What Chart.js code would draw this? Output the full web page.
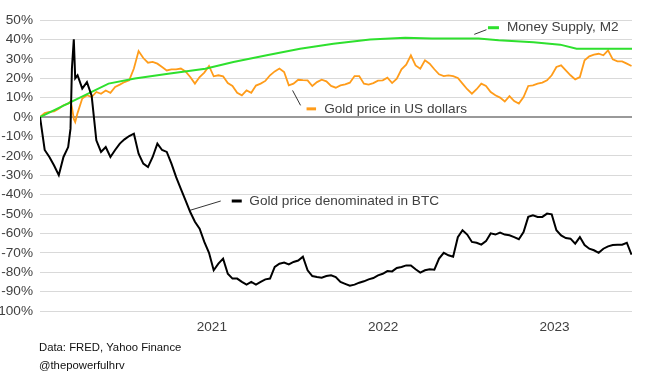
<!DOCTYPE html>
<html>
<head>
<meta charset="utf-8">
<script src="https://cdn.jsdelivr.net/npm/chart.js@4.4.1/dist/chart.umd.min.js"></script>
<style>
html,body{margin:0;padding:0;background:#fff;}
#wrap{width:645px;height:378px;position:relative;}
</style>
</head>
<body>
<div id="wrap"><canvas id="c" width="645" height="378"></canvas></div>
<script>
// Days since 2020-01-01
const days = [0,10,20,30,40,50,60,65,68,72,75,
  80,90,100,110,120,130,140,150,160,170,
  180,190,200,210,220,230,240,250,260,270,
  280,290,300,310,320,330,340,350,360,370,
  380,390,400,410,420,430,440,450,460,470,
  480,490,500,510,520,530,540,550,560,570,
  580,590,600,610,620,630,640,650,660,670,
  680,690,700,710,720,730,740,750,760,770,
  780,790,800,810,820,830,840,850,860,870,
  880,890,900,910,920,930,940,950,960,970,
  980,990,1000,1010,1020,1030,1040,1050,1060,1070,
  1080,1090,1100,1110,1120,1130,1140,1150,1160,1170,
  1180,1190,1200,1210,1220,1230,1240,1250,1260];

// Gold price denominated in BTC (% change)
const goldBtc = [0,-17,-20.6,-25,-30,-20.6,-15.5,
  -6,25,40,20,
  21.5,14.6,18,11,-12,-18,-15.5,-20.6,-17,-13.7,
  -11.5,-9.8,-8.6,-18.9,-24,-25.8,-20.6,-13.7,-17,-18,
  -24,-31,-37,-43,-49,-54,-57.6,-64.4,-70,-79,
  -75.6,-73,-80.8,-83.3,-83.3,-85,-86.4,-85,-86.4,-85,
  -83.7,-83.3,-77.3,-75.6,-75,-76,-74.7,-74,-72,-79,
  -82,-82.5,-82.8,-82,-81.6,-82.5,-85,-86,-87,-86.4,
  -85.4,-84.7,-83.7,-83,-81.6,-80.8,-79.4,-79.6,-77.8,-77.3,
  -76.5,-76.5,-78.5,-80.2,-79,-78.5,-78.7,-73,-70,-71.3,
  -72,-62,-58.4,-60.6,-64.4,-64.8,-65.8,-64,-60,-60.6,
  -59.6,-60.6,-61,-61.9,-63,-59.3,-51.5,-50.7,-51.5,-51.5,
  -49.8,-50.2,-58.4,-61,-62.4,-62.7,-65.3,-61.9,-66,-67.9,
  -68.7,-70,-67.9,-66.7,-66,-65.8,-65.8,-64.8,-71];

// Gold price in US dollars (% change)
const goldUsd = [0,2,2.6,2.9,4.3,6,6.9,
  8,5,-1,-2.6,
  2,9.5,11.2,10.3,12.9,12,13.7,12.5,15.5,16.7,
  18,18.9,25,34,30.4,28,28.4,27.5,25.8,24,
  24.6,24.6,25,23.5,20.6,17.2,20.6,22.9,26.3,21,
  21.5,21,17.5,16,12.5,11.2,13.7,12.5,16.2,17.2,
  18.6,21.5,23.5,25,23.2,16.3,17.2,19.2,19,18.9,
  16,18,19.2,18.4,16,15.1,16.3,16.8,17.7,21.1,
  21.1,17.2,16.7,17.5,18.7,18.9,20.3,17.5,19.8,24.6,
  27,31.8,26.6,24.9,29.2,27.5,24.6,22,21.1,21.5,
  21.1,20.1,17.2,14.3,12,14.3,17.2,16,12.9,11.2,
  10,8,10.8,8.2,6.9,10.3,16,16.3,17.2,17.7,
  18.9,21.5,25.8,26.6,24,21.5,19.4,20.6,29.2,31.3,
  32.1,32.6,31.8,34.4,29.7,28.7,28.7,27.5,26.3];

// Money Supply M2 (% change)
const m2Days = [0,146,202,273,352,412,483,554,625,703,778,835,934,977,1051,1108,1143,1261];
const m2 = [0,17.2,19.8,22.3,24.9,28.4,31.8,35.2,37.8,40,40.9,40.5,40.4,39.5,38.5,37.3,35.2,35.2];

const tickDays = [366,731,1096];
const tickLabels = ['2021','2022','2023'];

const seriesNames = ['Gold price denominated in BTC','Money Supply, M2','Gold price in US dollars'];
const colors = {btc:'#000000', m2:'#2EE02E', usd:'#FF9C1A'};

const FONT = "'Liberation Sans', Arial, sans-serif";
const TEXT = '#404040';

function pts(xs, ys){ return xs.map((x,i)=>({x:x, y:ys[i]})); }

// Annotation callouts: leader line in data coords, marker/text offsets in px from leader end
const callouts = [
  {text:seriesNames[1], color:colors.m2, from:[925,42.6], to:[951,45.0], dash:[1.5,12.5], dy:-2, tx:20.5},
  {text:seriesNames[2], color:colors.usd, from:[538,13.7], to:[555,6.0], dash:[6,15.5], dy:3.5, tx:23.6},
  {text:seriesNames[0], color:colors.btc, from:[319.5,-48.1], to:[385,-43.3], dash:[11,21], dy:0, tx:28.6}
];

const calloutPlugin = {
  id:'callouts',
  afterDatasetsDraw(chart){
    const ctx = chart.ctx, xs = chart.scales.x, ys = chart.scales.y;
    ctx.save();
    callouts.forEach(c=>{
      const x1 = xs.getPixelForValue(c.from[0]), y1 = ys.getPixelForValue(c.from[1]);
      const x2 = xs.getPixelForValue(c.to[0]), y2 = ys.getPixelForValue(c.to[1]);
      ctx.strokeStyle = '#000'; ctx.lineWidth = 0.8;
      ctx.beginPath(); ctx.moveTo(x1,y1); ctx.lineTo(x2,y2); ctx.stroke();
      ctx.strokeStyle = c.color; ctx.lineWidth = 3;
      ctx.beginPath(); ctx.moveTo(x2+c.dash[0], y2+c.dy); ctx.lineTo(x2+c.dash[1], y2+c.dy); ctx.stroke();
      ctx.fillStyle = TEXT; ctx.font = '13.6px ' + FONT;
      ctx.textBaseline = 'middle'; ctx.textAlign = 'left';
      ctx.fillText(c.text, x2+c.tx, y2+c.dy);
    });
    ctx.restore();
  },
  afterDraw(chart){
    const ctx = chart.ctx;
    ctx.save();
    ctx.fillStyle = '#111'; ctx.font = '11.3px ' + FONT;
    ctx.textBaseline = 'middle'; ctx.textAlign = 'left';
    ctx.fillText('Data: FRED, Yahoo Finance', 39, 348);
    ctx.fillText('@thepowerfulhrv', 39, 366);
    ctx.restore();
  }
};

new Chart(document.getElementById('c'), {
  type:'line',
  data:{
    datasets:[
      {label:seriesNames[0], data:pts(days, goldBtc), borderColor:colors.btc, borderWidth:2, pointRadius:0, tension:0},
      {label:seriesNames[1], data:pts(m2Days, m2), borderColor:colors.m2, borderWidth:2, pointRadius:0, tension:0},
      {label:seriesNames[2], data:pts(days, goldUsd), borderColor:colors.usd, borderWidth:1.8, pointRadius:0, tension:0}
    ]
  },
  options:{
    responsive:false,
    animation:false,
    parsing:false,
    layout:{padding:{left:0,right:13,top:20,bottom:0}},
    plugins:{legend:{display:false}, tooltip:{enabled:false}},
    scales:{
      x:{
        type:'linear', min:0, max:1261,
        afterBuildTicks(s){ s.ticks = tickDays.map(v=>({value:v})); },
        afterFit(s){ s.height = 67; },
        grid:{display:false, drawTicks:false},
        border:{display:false},
        ticks:{autoSkip:false, maxRotation:0, padding:8, color:TEXT,
          font:{family:FONT, size:13.6},
          callback(v){ const i = tickDays.indexOf(v); return i>=0 ? tickLabels[i] : ''; }}
      },
      y:{
        min:-100, max:50,
        afterFit(s){ s.width = 40; },
        grid:{drawTicks:false,
          color:(c)=> c.tick && c.tick.value===0 ? '#999999' : '#d9d9d9',
          lineWidth:(c)=> c.tick && c.tick.value===0 ? 2 : 1},
        border:{display:false},
        ticks:{stepSize:10, padding:7, color:TEXT, font:{family:FONT, size:13.6},
          callback(v){ return v + '%'; }}
      }
    }
  },
  plugins:[calloutPlugin]
});
</script>
</body>
</html>
